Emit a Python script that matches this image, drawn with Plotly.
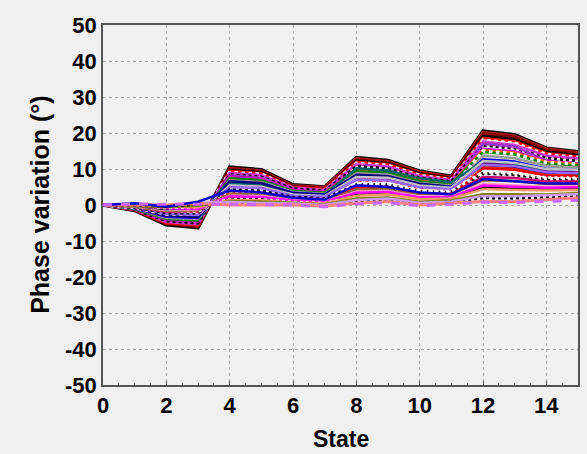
import plotly.graph_objects as go

states = list(range(16))

# Phase variation (degrees) per line
line_01 = [0, -1.5, -5.5, -6.3, 10.5, 9.8, 5.6, 5.0, 13.2, 12.4, 9.4, 8.0, 20.5, 19.5, 15.8, 14.8]
line_02 = [0, -1.4, -5.2, -6.0, 10.0, 9.3, 5.3, 4.7, 12.6, 11.8, 8.9, 7.6, 19.8, 18.9, 15.3, 14.3]
line_03 = [0, -1.4, -5.0, -5.6, 9.5, 8.8, 5.0, 4.5, 12.0, 11.3, 8.5, 7.3, 18.6, 17.7, 14.4, 13.5]
line_04 = [0, -1.3, -4.7, -5.3, 8.9, 8.3, 4.8, 4.2, 11.3, 10.7, 8.0, 6.9, 17.6, 16.7, 13.7, 12.9]
line_05 = [0, -1.2, -4.4, -5.0, 8.4, 7.8, 4.5, 3.9, 10.7, 10.1, 7.5, 6.5, 16.6, 15.8, 13.0, 12.2]
line_06 = [0, -1.1, -4.1, -4.6, 7.9, 7.4, 4.2, 3.7, 10.0, 9.6, 7.1, 6.1, 15.6, 14.9, 12.2, 11.6]
line_07 = [0, -1.1, -3.9, -4.3, 7.4, 6.9, 3.9, 3.4, 9.4, 9.0, 6.6, 5.8, 14.7, 14.0, 11.5, 11.0]
line_08 = [0, -1.0, -3.6, -3.9, 6.8, 6.4, 3.6, 3.1, 8.8, 8.4, 6.1, 5.4, 13.7, 13.0, 10.8, 10.3]
line_09 = [0, -0.9, -3.3, -3.6, 6.3, 5.9, 3.4, 2.9, 8.1, 7.8, 5.6, 5.0, 12.7, 12.1, 10.1, 9.7]
line_10 = [0, -0.8, -3.0, -3.2, 5.8, 5.4, 3.1, 2.6, 7.5, 7.3, 5.2, 4.6, 11.7, 11.2, 9.4, 9.0]
line_11 = [0, -0.8, -2.8, -2.9, 5.3, 4.9, 2.8, 2.4, 6.9, 6.7, 4.7, 4.3, 10.8, 10.3, 8.7, 8.4]
line_12 = [0, -0.7, -2.5, -2.6, 4.7, 4.4, 2.5, 2.1, 6.2, 6.1, 4.2, 3.9, 9.8, 9.3, 7.9, 7.8]
line_13 = [0, -0.6, -2.2, -2.2, 4.2, 3.9, 2.2, 1.8, 5.6, 5.6, 3.8, 3.5, 8.8, 8.4, 7.2, 7.1]
line_14 = [0, -0.5, -1.9, -1.9, 3.7, 3.4, 2.0, 1.6, 5.0, 5.0, 3.3, 3.1, 7.8, 7.5, 6.5, 6.5]
line_15 = [0, -0.5, -1.7, -1.5, 3.2, 2.9, 1.7, 1.3, 4.3, 4.4, 2.8, 2.8, 6.9, 6.6, 5.8, 5.8]
line_16 = [0, -0.4, -1.4, -1.2, 2.6, 2.5, 1.4, 1.0, 3.7, 3.9, 2.4, 2.4, 5.9, 5.6, 5.1, 5.2]
line_17 = [0, -0.3, -1.1, -0.9, 2.1, 2.0, 1.1, 0.8, 3.0, 3.3, 1.9, 2.0, 4.9, 4.7, 4.4, 4.6]
line_18 = [0, -0.2, -0.8, -0.5, 1.6, 1.5, 0.8, 0.5, 2.4, 2.7, 1.4, 1.6, 3.9, 3.8, 3.6, 3.9]
line_19 = [0, -0.2, -0.6, -0.2, 1.1, 1.0, 0.6, 0.2, 1.8, 2.1, 0.9, 1.3, 3.0, 2.9, 2.9, 3.3]
line_20 = [0, -0.1, -0.3, 0.2, 0.5, 0.5, 0.3, 0.0, 1.1, 1.6, 0.5, 0.9, 2.0, 1.9, 2.2, 2.6]
line_21 = [0, 0.0, 0.0, 0.5, 0.0, 0.0, 0.0, -0.3, 0.5, 1.0, 0.0, 0.5, 1.0, 1.0, 1.5, 2.0]
line_22 = [0, 0.5, -0.5, 0.9, 4.0, 3.5, 2.0, 1.5, 5.5, 5.0, 3.5, 3.0, 7.2, 6.6, 6.0, 6.0]
line_23 = [0, 0.3, 0.2, 0.3, 0.2, 0.1, 0.0, -0.5, 0.3, 0.6, -0.2, 0.2, 0.8, 0.7, 1.0, 1.3]
line_24 = [0, -0.9, -3.4, -4.0, 8.2, 7.6, 4.0, 3.2, 9.0, 8.4, 6.3, 5.2, 17.0, 16.2, 12.4, 11.2]
line_25 = [0, -0.6, -2.6, -3.0, 6.0, 5.6, 3.0, 2.7, 10.2, 9.6, 7.4, 6.3, 12.2, 11.6, 9.0, 8.6]
line_26 = [0, -0.4, -1.8, -2.4, 4.8, 4.5, 2.7, 2.2, 7.2, 7.0, 5.0, 4.4, 15.0, 14.2, 11.8, 11.4]
line_27 = [0, -0.3, -1.2, -1.6, 3.0, 2.7, 1.5, 1.2, 4.6, 4.6, 3.0, 2.6, 10.2, 9.8, 8.2, 8.0]
line_28 = [0, -0.7, -2.9, -3.4, 6.6, 6.1, 3.3, 2.8, 8.4, 8.0, 5.9, 5.1, 11.2, 10.7, 9.0, 8.8]
line_29 = [0, -0.2, -0.9, -1.1, 2.4, 2.2, 1.2, 0.9, 3.4, 3.6, 2.1, 2.2, 5.4, 5.2, 4.8, 4.9]
line_30 = [0, -1.0, -4.2, -4.8, 9.0, 8.6, 4.6, 4.0, 11.6, 11.0, 8.2, 7.0, 18.0, 17.2, 14.0, 13.2]
line_31 = [0, -1.3, -4.9, -5.8, 10.2, 9.5, 5.4, 4.9, 12.9, 12.1, 9.2, 7.8, 20.2, 19.2, 15.6, 14.6]
line_32 = [0, -0.8, -3.1, -3.7, 7.0, 6.6, 3.8, 3.3, 9.8, 9.3, 7.0, 6.0, 15.2, 14.5, 12.0, 11.4]
line_33 = [0, -0.5, -2.0, -2.7, 5.5, 5.1, 2.9, 2.5, 7.8, 7.6, 5.4, 4.8, 12.2, 11.7, 10.0, 9.8]
line_34 = [0, -0.3, -1.5, -1.8, 3.5, 3.2, 1.9, 1.5, 6.0, 6.0, 4.0, 3.8, 9.2, 8.9, 7.6, 7.5]
line_35 = [0, -0.1, -0.5, -0.6, 1.4, 1.3, 0.7, 0.4, 2.6, 2.9, 1.6, 1.8, 4.4, 4.2, 4.0, 4.2]
line_36 = [0, 0.2, -0.2, 0.6, 0.8, 0.7, 0.4, 0.1, 1.4, 1.8, 0.6, 1.0, 2.5, 2.4, 2.6, 3.0]
line_37 = [0, -1.2, -4.6, -5.4, 9.8, 9.1, 5.1, 4.5, 12.3, 11.6, 8.7, 7.4, 19.2, 18.3, 14.8, 13.9]
line_38 = [0, -0.6, -2.4, -2.8, 5.0, 4.7, 2.6, 2.3, 7.0, 6.8, 4.9, 4.4, 11.2, 10.8, 9.1, 8.8]

series = [
    (line_01, "#000000", "solid", 3.5),
    (line_31, "#b22222", "solid", 3.0),
    (line_02, "#8b0000", "solid", 3.0),
    (line_37, "#000000", "solid", 2.5),
    (line_03, "#ff0000", "solid", 2.5),
    (line_30, "#ffffff", "dot", 3.5),
    (line_04, "#cc33cc", "solid", 2.5),
    (line_05, "#000000", "dot", 3.0),
    (line_24, "#9933cc", "solid", 2.5),
    (line_06, "#cc00cc", "solid", 2.5),
    (line_32, "#ff6600", "solid", 2.5),
    (line_07, "#008000", "solid", 2.5),
    (line_08, "#999999", "solid", 2.5),
    (line_09, "#0000ff", "solid", 2.5),
    (line_26, "#ffffff", "dot", 3.5),
    (line_10, "#800080", "solid", 2.5),
    (line_25, "#006666", "solid", 2.5),
    (line_11, "#ff3300", "solid", 2.5),
    (line_28, "#000080", "solid", 2.5),
    (line_33, "#c0c0c0", "solid", 2.5),
    (line_12, "#ffffff", "dot", 3.5),
    (line_38, "#9966ff", "solid", 2.5),
    (line_13, "#000000", "dot", 3.0),
    (line_14, "#cc0066", "solid", 2.5),
    (line_27, "#e60000", "solid", 2.5),
    (line_34, "#ffffff", "dot", 3.0),
    (line_15, "#996633", "solid", 2.5),
    (line_16, "#ff99cc", "solid", 2.5),
    (line_17, "#000000", "solid", 2.5),
    (line_29, "#ff00ff", "solid", 2.5),
    (line_18, "#ffffff", "dot", 3.0),
    (line_35, "#ff9966", "solid", 2.5),
    (line_19, "#808000", "solid", 2.5),
    (line_20, "#000000", "dot", 3.0),
    (line_36, "#cc99ff", "solid", 2.5),
    (line_21, "#ff8080", "solid", 3.0),
    (line_22, "#0000cc", "solid", 2.5),
    (line_23, "#cc66ff", "dash", 3.0),
]

x_ticks = [0, 2, 4, 6, 8, 10, 12, 14]
y_ticks = [-50, -40, -30, -20, -10, 0, 10, 20, 30, 40, 50]

fig = go.Figure()
for vals, color, dash, w in series:
    fig.add_trace(go.Scatter(x=states, y=vals, mode="lines",
                             line=dict(color=color, dash=dash, width=w),
                             showlegend=False, hoverinfo="skip"))

fam = "Liberation Sans, Arial, sans-serif"
axis_font = dict(family=fam, size=22, color="#000000", weight="bold")
xtitle_font = dict(family=fam, size=23, color="#000000", weight="bold")
ytitle_font = dict(family=fam, size=25, color="#000000", weight="bold")

fig.update_layout(
    width=587, height=454,
    paper_bgcolor="#f0f0f0", plot_bgcolor="#f0f0f0",
    margin=dict(l=103, r=9, t=25, b=69),
    showlegend=False,
    annotations=[
        dict(text="State", xref="paper", yref="paper", x=0.5, y=-0.15,
             xanchor="center", yanchor="middle", showarrow=False, font=xtitle_font),
        dict(text="Phase variation (°)", xref="paper", yref="paper", x=-0.133, y=0.5,
             xanchor="center", yanchor="middle", textangle=-90, showarrow=False, font=ytitle_font),
    ],
)
fig.update_xaxes(
    range=[0, 15], tickvals=x_ticks, ticktext=[str(v) for v in x_ticks],
    tickfont=axis_font, automargin=False,
    showgrid=True, gridcolor="#a8a8a8", griddash="dot", gridwidth=1,
    showline=True, mirror=True, linecolor="#555555", linewidth=1.5,
    ticks="inside", ticklen=4, tickcolor="#555555",
    minor=dict(dtick=0.5, ticks="inside", ticklen=2, tickcolor="#777777", showgrid=False),
    zeroline=False,
)
fig.update_yaxes(
    range=[-50, 50], tickvals=y_ticks, ticktext=[str(v) for v in y_ticks],
    tickfont=axis_font, automargin=False,
    showgrid=True, gridcolor="#a8a8a8", griddash="dot", gridwidth=1,
    showline=True, mirror=True, linecolor="#555555", linewidth=1.5,
    ticks="", zeroline=False,
)

fig.write_html(
    "out.html",
    config={"displayModeBar": False},
    post_script="document.body.style.margin='0';document.body.style.background='#f0f0f0';",
)
